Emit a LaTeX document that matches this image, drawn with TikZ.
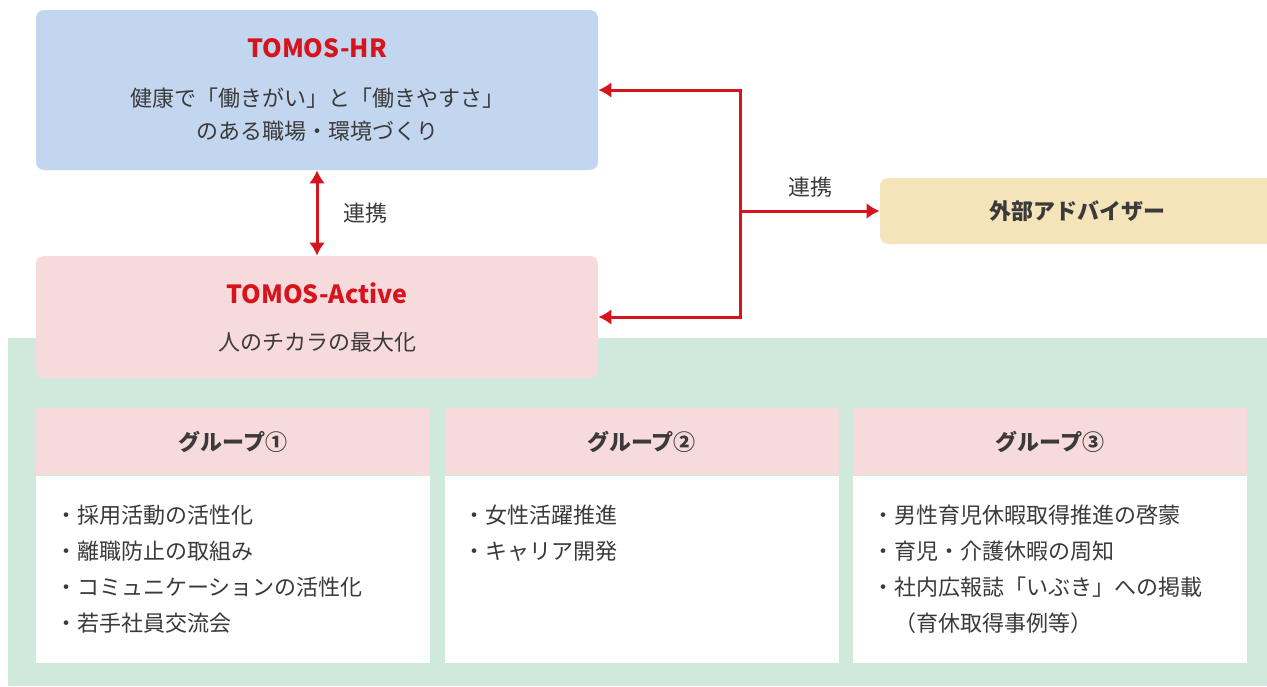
\documentclass[tikz,border=0pt]{standalone}
\usepackage{fontspec}
\setmainfont{Noto Sans CJK JP}
\usepackage{xcolor}
\usetikzlibrary{positioning,arrows.meta}

\definecolor{hrblue}{HTML}{C3D6F0}
\definecolor{actpink}{HTML}{F6DADC}
\definecolor{advyellow}{HTML}{F5E4B9}
\definecolor{grpgreen}{HTML}{CFE9DC}
\definecolor{linkred}{HTML}{D5141E}
\definecolor{txtgray}{HTML}{3A3A3A}

\newcommand{\boxtitle}[1]{{\fontsize{12.5}{15}\selectfont\bfseries\color{linkred}#1}}

\tikzset{
  box/.style={rounded corners=4pt, inner sep=0pt, align=center, text=txtgray,
    font=\fontsize{11}{16.5}\selectfont},
  link/.style={draw=linkred, line width=1.5pt},
  tip/.style={-{Latex[length=6.5pt,width=8pt]}},
  lbl/.style={text=txtgray, font=\fontsize{11}{13}\selectfont},
  head/.style={fill=actpink, minimum width=197pt, minimum height=33.5pt, inner sep=0pt,
    text=txtgray, font=\fontsize{11}{13}\selectfont\bfseries},
  body/.style={fill=white, minimum width=197pt, minimum height=93.5pt, inner sep=0pt},
  items/.style={anchor=north west, inner sep=0pt, align=left, text=txtgray,
    font=\fontsize{11}{18}\selectfont},
}

\begin{document}
\begin{tikzpicture}[x=0.5pt, y=-0.5pt]

    \useasboundingbox (0,0) rectangle (1267,686);

    % Green area behind the groups
    \fill[grpgreen] (8,338) rectangle (1267,686);

    % Top boxes
    \node[box, fill=hrblue, minimum width=281pt, minimum height=80pt] (hr) at (317,90)
        {\boxtitle{TOMOS-HR}\\[8pt] 健康で「働きがい」と「働きやすさ」\\ のある職場・環境づくり};
    \node[box, fill=actpink, minimum width=281pt, minimum height=61pt] (active) at (317,317)
        {\boxtitle{TOMOS-Active}\\[7pt] 人のチカラの最大化};
    \node[box, fill=advyellow, minimum width=197.5pt, minimum height=33pt,
        font=\fontsize{11}{13}\selectfont\bfseries] (advisor) at (1077.5,211) {外部アドバイザー};

    % Links
    \draw[link, {Latex[length=6.5pt,width=8pt]}-{Latex[length=6.5pt,width=8pt]}]
        (hr.south) -- node[right=9pt, lbl] {連携} (active.north);
    \coordinate (junc) at ([xshift=-69.5pt]advisor.west);
    \draw[link, tip] (junc) |- (hr.east);
    \draw[link, tip] (junc) |- (active.east);
    \draw[link, tip] (junc) -- node[above=3pt, lbl] {連携} (advisor.west);

    % Group 1
    \node[head] (g1head) at (233,441.5) {グループ①};
    \node[body, below=0pt of g1head] (g1body) {};
    \node[items] (g1items) at ([shift={(19,29)}]g1body.north west)
        {・採用活動の活性化\\ ・離職防止の取組み\\ ・コミュニケーションの活性化\\ ・若手社員交流会};

    % Group 2
    \node[head] (g2head) at (641.5,441.5) {グループ②};
    \node[body, below=0pt of g2head] (g2body) {};
    \node[items] (g2items) at ([shift={(19,29)}]g2body.north west)
        {・女性活躍推進\\ ・キャリア開発};

    % Group 3
    \node[head] (g3head) at (1050,441.5) {グループ③};
    \node[body, below=0pt of g3head] (g3body) {};
    \node[items] (g3items) at ([shift={(19,29)}]g3body.north west)
        {・男性育児休暇取得推進の啓蒙\\ ・育児・介護休暇の周知\\ ・社内広報誌「いぶき」への掲載\\ 　（育休取得事例等）};

\end{tikzpicture}
\end{document}
